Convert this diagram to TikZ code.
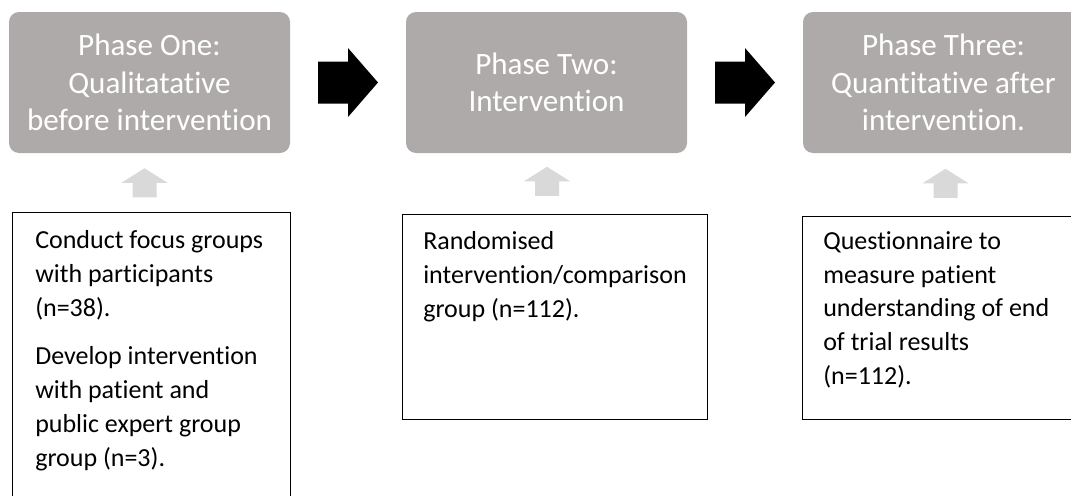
\documentclass[tikz,border=0pt]{standalone}
\usepackage{fontspec}
\setmainfont{Carlito}[Ligatures=NoCommon]
\usetikzlibrary{positioning, calc}
\definecolor{phasegray}{RGB}{174, 170, 170}
\definecolor{liftgray}{RGB}{217, 217, 217}

\begin{document}
\begin{tikzpicture}[x=0.75pt, y=-0.75pt,
        phase/.style={rounded corners=7.5pt, fill=phasegray, text=white, minimum width=210.75pt, minimum height=105.75pt, align=center, font=\fontsize{23.3}{28}\selectfont},
        detail/.style={draw=black, line width=1.1pt, anchor=north west},
        detailtext/.style={anchor=north west, align=left, inner sep=0pt, font=\fontsize{19.5}{25.4}\selectfont},
        pics/nextarrow/.style={code={\fill[black] (-30,-21) -- (0,-21) -- (0,-34.5) -- (30,0) -- (0,34.5) -- (0,21) -- (-30,21) -- cycle;}},
        pics/liftarrow/.style={code={\fill[liftgray] (-12,14.5) -- (-12,0) -- (-23,0) -- (0,-14.5) -- (23,0) -- (12,0) -- (12,14.5) -- cycle;}}
    ]
        \useasboundingbox (0,0) rectangle (1071,496);

        \node[phase] (p1) at (149.5,82.5) {Phase One:\\Qualitatative\\before intervention};
        \node[phase, right=86.6pt of p1] (p2) {Phase Two:\\Intervention};
        \node[phase, right=86.6pt of p2] (p3) {Phase Three:\\Quantitative after\\intervention.};

        \node[detail, minimum width=208.5pt, minimum height=225pt] (d1) at (12,212) {};
        \node[detail, minimum width=228.75pt, minimum height=153.75pt] (d2) at (402,214) {};
        \node[detail, minimum width=225pt, minimum height=152.25pt] (d3) at (802,216) {};

        \node[detailtext] (t1) at ($(d1.north west)+(23,18)$) {Conduct focus groups\\with participants\\(n=38).\\[10.9pt]Develop intervention\\with patient and\\public expert group\\group (n=3).};
        \node[detailtext] (t2) at ($(d2.north west)+(21,17)$) {Randomised\\intervention/comparison\\group (n=112).};
        \node[detailtext] (t3) at ($(d3.north west)+(21,15)$) {Questionnaire to\\measure patient\\understanding of end\\of trial results\\(n=112).};

        \pic at ($(p1.east)!0.5!(p2.west)$) {nextarrow};
        \pic at ($(p2.east)!0.5!(p3.west)$) {nextarrow};

        \pic at ($(p1.south)+(-5,29.5)$) {liftarrow};
        \pic at ($(p2.south)+(0.5,28)$) {liftarrow};
        \pic at ($(p3.south)+(2,30)$) {liftarrow};
    \end{tikzpicture}
\end{document}
